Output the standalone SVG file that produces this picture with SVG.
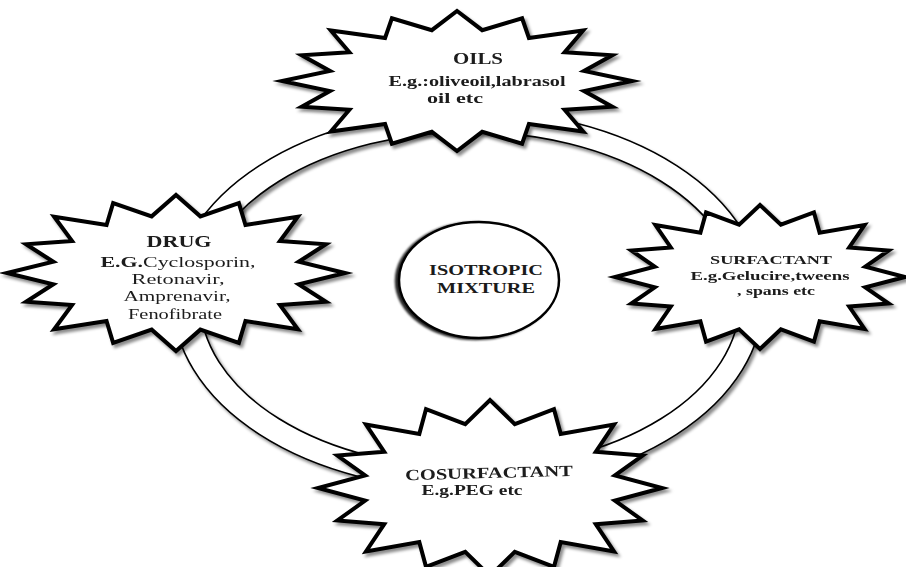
<svg xmlns="http://www.w3.org/2000/svg" width="906" height="567" viewBox="0 0 906 567">
<defs>
<style>
.star{fill:#fff;stroke:#000;stroke-width:4;stroke-linejoin:miter;stroke-miterlimit:5;vector-effect:non-scaling-stroke}
.t{font-family:"Liberation Serif","Times New Roman",serif;fill:#1a1a1a;text-anchor:middle}
.b{font-weight:bold}
.ring{fill:#fff;fill-rule:evenodd;stroke:#000;stroke-width:1.6}
.core{fill:#fff;stroke:#000;stroke-width:2.5}
</style>
<filter id="sh" x="-10%" y="-10%" width="125%" height="130%">
<feDropShadow dx="2.5" dy="3" stdDeviation="1.8" flood-color="#000" flood-opacity="0.45"/>
</filter>
<filter id="shl" x="-10%" y="-10%" width="120%" height="125%">
<feDropShadow dx="-3" dy="1" stdDeviation="0.8" flood-color="#000" flood-opacity="0.85"/>
</filter>
<polygon id="burst" class="star" points="100,0 72.6,14.4 88.7,36.8 61.5,41.1 72.1,72.1 41.1,61.5 37.2,89.6 14.4,72.6 0,100 -14.4,72.6 -37.2,89.6 -41.1,61.5 -72.1,72.1 -61.5,41.1 -88.7,36.8 -72.6,14.4 -100,0 -72.6,-14.4 -88.7,-36.8 -61.5,-41.1 -72.1,-72.1 -41.1,-61.5 -37.2,-89.6 -14.4,-72.6 0,-100 14.4,-72.6 37.2,-89.6 41.1,-61.5 72.1,-72.1 61.5,-41.1 88.7,-36.8 72.6,-14.4"/>
</defs>
<rect width="906" height="567" fill="#fff"/>

<g id="connectors">
<path class="ring" filter="url(#sh)" d="M173 300 A295 190 0 1 0 763 300 A295 190 0 1 0 173 300 Z M200 300 A270 168 0 1 0 740 300 A270 168 0 1 0 200 300 Z"/>
</g>

<g id="isotropic-mixture">
<ellipse class="core" filter="url(#shl)" cx="479" cy="280" rx="80" ry="58"/>
<text class="t b" font-size="15.3" x="486" y="275" textLength="114" lengthAdjust="spacingAndGlyphs">ISOTROPIC</text>
<text class="t b" font-size="15.3" x="486" y="292.5" textLength="98" lengthAdjust="spacingAndGlyphs">MIXTURE</text>
</g>

<g id="oils" filter="url(#sh)">
<use href="#burst" transform="translate(457,81) scale(1.75,0.70)"/>
<text class="t b" font-size="17" x="478" y="64" textLength="50" lengthAdjust="spacingAndGlyphs">OILS</text>
<text class="t b" font-size="15" x="477" y="86" textLength="177" lengthAdjust="spacingAndGlyphs">E.g.:oliveoil,labrasol</text>
<text class="t b" font-size="15" x="455" y="103" textLength="56" lengthAdjust="spacingAndGlyphs">oil etc</text>
</g>

<g id="drug" filter="url(#sh)">
<use href="#burst" transform="translate(176,273) scale(1.69,0.78)"/>
<text class="t b" font-size="16" x="179" y="247" textLength="65" lengthAdjust="spacingAndGlyphs">DRUG</text>
<text class="t" font-size="15.4" x="178" y="267" textLength="155" lengthAdjust="spacingAndGlyphs"><tspan class="b">E.G.</tspan>Cyclosporin,</text>
<text class="t" font-size="15.4" x="178" y="284.2" textLength="93" lengthAdjust="spacingAndGlyphs">Retonavir,</text>
<text class="t" font-size="15.4" x="177" y="301.4" textLength="107" lengthAdjust="spacingAndGlyphs">Amprenavir,</text>
<text class="t" font-size="15.4" x="175" y="318.6" textLength="94" lengthAdjust="spacingAndGlyphs">Fenofibrate</text>
</g>

<g id="surfactant" filter="url(#sh)">
<use href="#burst" transform="translate(760,277) scale(1.45,0.72)"/>
<text class="t b" font-size="13" x="771" y="264" textLength="122" lengthAdjust="spacingAndGlyphs">SURFACTANT</text>
<text class="t b" font-size="13.3" x="770" y="279.5" textLength="159" lengthAdjust="spacingAndGlyphs">E.g.Gelucire,tweens</text>
<text class="t b" font-size="13.3" x="776" y="295" textLength="78" lengthAdjust="spacingAndGlyphs">, spans etc</text>
</g>

<g id="cosurfactant" filter="url(#sh)">
<use href="#burst" transform="translate(490,488) scale(1.72,0.88)"/>
<text class="t b" font-size="15.5" x="489" y="478" textLength="168" lengthAdjust="spacingAndGlyphs" transform="rotate(-1.5 489 474)">COSURFACTANT</text>
<text class="t b" font-size="14.5" x="472" y="495" textLength="101" lengthAdjust="spacingAndGlyphs">E.g.PEG etc</text>
</g>
</svg>
